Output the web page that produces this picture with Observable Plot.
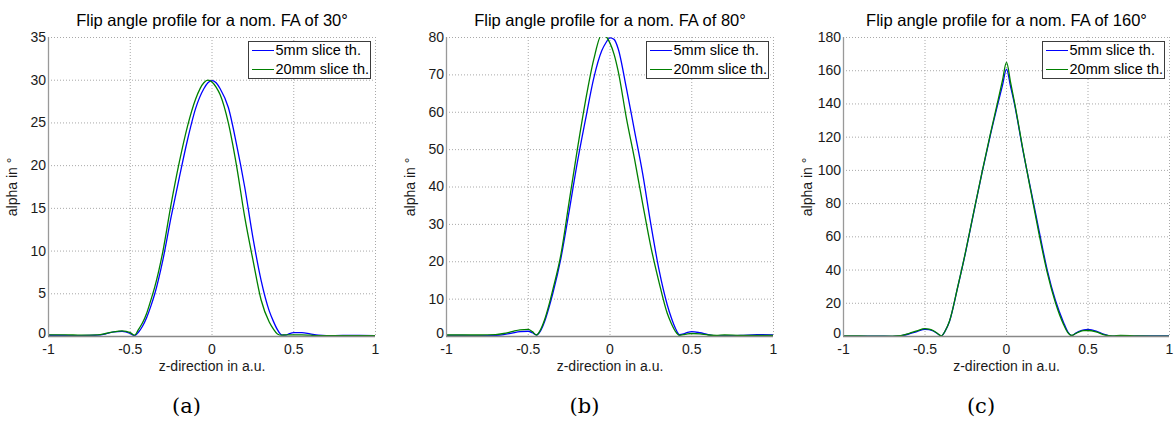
<!DOCTYPE html>
<html><head><meta charset="utf-8">
<script src="https://cdn.jsdelivr.net/npm/d3@7"></script>
<script src="https://cdn.jsdelivr.net/npm/@observablehq/plot@0.6"></script>
<style>
html,body{margin:0;padding:0;background:#fff;}
#root{position:relative;width:1175px;height:423px;overflow:hidden;font-family:"Liberation Sans",Arial,sans-serif;}
.panel{position:absolute;top:0;}
.legend{position:absolute;top:41px;width:123px;height:38px;border:1px solid #3c3c3c;background:#fff;box-sizing:border-box;font-size:14.5px;line-height:14.5px;color:#000;}
.legend .sw{position:absolute;left:3px;width:22px;height:0;}
.legend .lb{position:absolute;left:26.5px;white-space:nowrap;}
</style></head><body><div id="root"></div>
<script>
// shared z positions (a.u.)
const zPos = [-1, -0.9, -0.8, -0.7, -0.65, -0.6, -0.55, -0.5, -0.475, -0.45, -0.425, -0.4, -0.375, -0.35,
  -0.3, -0.25, -0.2, -0.15, -0.1, -0.05, -0.025, 0, 0.025, 0.05, 0.1, 0.15, 0.2, 0.25, 0.3,
  0.35, 0.375, 0.4, 0.425, 0.45, 0.475, 0.5, 0.55, 0.6, 0.65, 0.7, 0.8, 0.9, 1];

// nominal FA 30°
const fa30_5mm = [0.15, 0.12, 0.1, 0.15, 0.3, 0.55, 0.6, 0.35, 0.1, 0.5, 1.2, 2.2, 3.5, 5.0,
  9.0, 14.0, 18.6, 23.0, 26.7, 29.0, 29.7, 29.95, 29.7, 29.0, 26.8, 22.5, 17.5, 11.6, 6.6,
  3.0, 1.8, 0.8, 0.2, 0.15, 0.35, 0.45, 0.45, 0.3, 0.15, 0.1, 0.12, 0.12, 0.1];
const fa30_20mm = [0.2, 0.2, 0.15, 0.2, 0.35, 0.55, 0.65, 0.45, 0.15, 0.8, 1.6, 2.7, 4.2, 5.8,
  10.0, 15.5, 20.4, 24.6, 27.8, 29.7, 30.0, 29.8, 29.2, 28.3, 25.0, 20.0, 14.0, 9.0, 4.3,
  1.7, 0.9, 0.3, 0.15, 0.2, 0.2, 0.2, 0.2, 0.15, 0.1, 0.1, 0.1, 0.1, 0.1];

// nominal FA 80°
const fa80_5mm = [0.3, 0.3, 0.2, 0.3, 0.5, 0.9, 1.3, 1.4, 1.0, 0.4, 1.5, 4.0, 7.5, 11.5,
  21.0, 33.5, 46.5, 58, 69, 76.5, 78.6, 79.9, 79.5, 77.0, 66.5, 55, 43.5, 30, 17.8,
  8.5, 5.0, 2.2, 0.5, 0.7, 1.1, 1.3, 1.0, 0.5, 0.2, 0.2, 0.3, 0.5, 0.4];
const fa80_20mm = [0.4, 0.4, 0.4, 0.5, 0.8, 1.3, 1.8, 1.9, 1.3, 0.4, 1.8, 4.5, 8.2, 12.5,
  22, 36, 50, 63, 74, 80.8, 80.3, 78.5, 75.5, 71, 58.5, 47.5, 35.5, 24, 14.5,
  6.2, 3.5, 1.4, 0.3, 0.5, 0.7, 0.8, 0.7, 0.4, 0.3, 0.4, 0.3, 0.3, 0.3];

// nominal FA 160°
const fa160_5mm = [0.2, 0.2, 0.2, 0.1, 0.4, 1.5, 3.0, 4.3, 4.1, 3.3, 1.8, 0.4, 3.5, 9,
  29.4, 51.2, 75.1, 98.6, 120.8, 141.2, 151, 161, 150.5, 139.5, 112.5, 88, 63.6, 40, 21.8,
  8.5, 3.0, 0.6, 2.0, 3.3, 4.0, 4.2, 3.3, 1.3, 0.2, 0.2, 0.3, 0.3, 0.3];
const fa160_20mm = [0.3, 0.3, 0.2, 0.2, 0.5, 1.8, 3.4, 4.7, 4.5, 3.6, 2.0, 0.4, 3.6, 9.2,
  29.5, 51.5, 75.5, 99, 121.5, 143, 154, 165, 153, 140.5, 113, 87, 61.5, 38.5, 20.5,
  7.3, 2.5, 0.6, 1.8, 3.0, 3.5, 3.6, 2.8, 1.0, 0.3, 0.6, 0.3, 0.2, 0.2];

const titles = ["Flip angle profile for a nom. FA of 30°", "Flip angle profile for a nom. FA of 80°", "Flip angle profile for a nom. FA of 160°"];
const captions = ["(a)", "(b)", "(c)"];
const seriesNames = ["5mm slice th.", "20mm slice th."];
const seriesColors = ["#0000ff", "#008000"];
const xTicks = [-1, -0.5, 0, 0.5, 1];
const yTicks30 = [0, 5, 10, 15, 20, 25, 30, 35];
const yTicks80 = [0, 10, 20, 30, 40, 50, 60, 70, 80];
const yTicks160 = [0, 20, 40, 60, 80, 100, 120, 140, 160, 180];
const xLabel = "z-direction in a.u.";
const yLabel = "alpha in °";

const panels = [
  {left: 0,   width: 392, plotW: 327, yTicks: yTicks30,  series: [fa30_5mm, fa30_20mm],   title: titles[0], cap: captions[0]},
  {left: 398, width: 392, plotW: 327, yTicks: yTicks80,  series: [fa80_5mm, fa80_20mm],   title: titles[1], cap: captions[1]},
  {left: 795, width: 380, plotW: 326, yTicks: yTicks160, series: [fa160_5mm, fa160_20mm], title: titles[2], cap: captions[2]}
];

const root = document.getElementById("root");
const mL = 48, mT = 37, H = 423, mB = 87;
const fam = "'Liberation Sans', Arial, sans-serif";

panels.forEach(p => {
  const mR = p.width - mL - p.plotW;
  const yt = p.yTicks;
  const lines = p.series.map((vals, k) =>
    Plot.line(zPos.map((z, i) => ({z, a: vals[i]})), {
      x: "z", y: "a", stroke: seriesColors[k], strokeWidth: 1.3, curve: "monotone-x", clip: true
    }));
  const chart = Plot.plot({
    width: p.width, height: H,
    marginTop: mT, marginBottom: mB, marginLeft: mL, marginRight: mR,
    x: {domain: [-1, 1]},
    y: {domain: [yt[0], yt[yt.length - 1]]},
    style: {fontFamily: fam, fontSize: "14px", color: "#1a1a1a", background: "transparent", overflow: "visible"},
    marks: [
      Plot.gridX({ticks: xTicks, stroke: "#a8a8a8", strokeOpacity: 1, strokeDasharray: "1,2"}),
      Plot.gridY({ticks: yt, stroke: "#a8a8a8", strokeOpacity: 1, strokeDasharray: "1,2"}),
      ...lines,
      Plot.ruleX([-1], {stroke: "#999", strokeWidth: 1.3}),
      Plot.ruleY([0], {stroke: "#888", strokeWidth: 1.3}),
      Plot.axisX({ticks: xTicks, tickSize: 0, tickPadding: 8, tickFormat: d => String(d), label: null, fontSize: 14, fontFamily: fam}),
      Plot.axisY({ticks: yt.slice(1), tickSize: 0, tickPadding: 2.5, tickFormat: d => String(d), label: null, fontSize: 14, fontFamily: fam}),
      Plot.axisY({ticks: yt.slice(0, 1), tickSize: 0, tickPadding: 2.5, dy: -2.5, tickFormat: d => String(d), label: null, fontSize: 14, fontFamily: fam}),
      Plot.text([p.title], {text: d => d, frameAnchor: "top", dy: -12, lineAnchor: "bottom", textAnchor: "middle", fontSize: 16.5, fill: "#000"}),
      Plot.text([xLabel], {text: d => d, frameAnchor: "bottom", dy: 34, lineAnchor: "bottom", textAnchor: "middle", fontSize: 14}),
      Plot.text([yLabel], {text: d => d, frameAnchor: "left", dx: -35.5, rotate: -90, lineAnchor: "middle", textAnchor: "middle", fontSize: 14}),
      Plot.text([p.cap], {text: d => d, frameAnchor: "bottom", dx: -25.5, dy: 76, lineAnchor: "bottom", textAnchor: "middle", fontSize: 21, fontFamily: "'DejaVu Serif', serif", fill: "#000"})
    ]
  });
  const wrap = document.createElement("div");
  wrap.className = "panel";
  wrap.style.left = p.left + "px";
  wrap.appendChild(chart);
  root.appendChild(wrap);

  // legend box (top-right inside the axes)
  const lg = document.createElement("div");
  lg.className = "legend";
  lg.style.left = (p.left + mL + p.plotW - 4 - 123) + "px";
  seriesNames.forEach((name, k) => {
    const sw = document.createElement("div");
    sw.className = "sw";
    sw.style.top = (8.2 + k * 18.3) + "px";
    sw.style.borderTop = "1.3px solid " + seriesColors[k];
    const lb = document.createElement("div");
    lb.className = "lb";
    lb.style.top = (1.4 + k * 18.3) + "px";
    lb.textContent = name;
    lg.appendChild(sw);
    lg.appendChild(lb);
  });
  root.appendChild(lg);
});
</script>
</body></html>
